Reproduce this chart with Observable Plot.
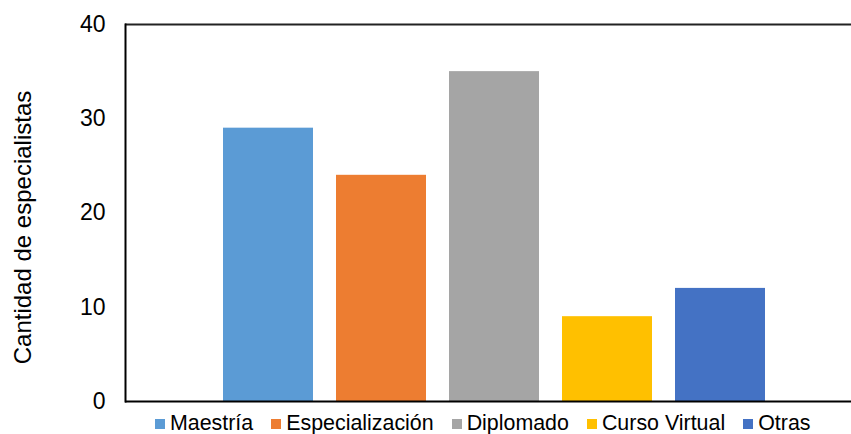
<!DOCTYPE html>
<html>
<head>
<meta charset="utf-8">
<script src="https://cdn.jsdelivr.net/npm/d3@7"></script>
<script src="https://cdn.jsdelivr.net/npm/@observablehq/plot@0.6"></script>
<style>
  html, body { margin: 0; padding: 0; background: #fff; }
  #chart { width: 851px; font-family: "Liberation Sans", Arial, sans-serif; }
  #chart svg { display: block; }
  #chart svg text { font-family: "Liberation Sans", Arial, sans-serif; }
  #legend { display: flex; align-items: center; height: 22px; margin-left: 155px; margin-top: -4px;
            font-size: 21.4px; line-height: 22px; color: #000; position: relative; }
  .item { display: flex; align-items: center; margin-right: 18px; white-space: nowrap; }
  .sw { width: 10px; height: 10px; margin-right: 5px; margin-top: 1px; display: inline-block; }
</style>
</head>
<body>
<div id="chart"></div>
<script>
const categories = ["Maestría", "Especialización", "Diplomado", "Curso Virtual", "Otras"];
const values = [29, 24, 35, 9, 12];
const colors = ["#5B9BD5", "#ED7D31", "#A5A5A5", "#FFC000", "#4472C4"];
const yTicks = [0, 10, 20, 30, 40];
const yLabel = "Cantidad de especialistas";

const data = categories.map((c, i) => ({cat: c, value: values[i]}));

const plot = Plot.plot({
  width: 851,
  height: 416,
  marginLeft: 125,
  marginRight: 0,
  marginTop: 24,
  marginBottom: 15,
  style: {fontFamily: "'Liberation Sans', Arial, sans-serif", fontSize: "21px", color: "#000", background: "#fff"},
  x: {domain: categories, range: [211.5, 776.5], paddingInner: 0.2, paddingOuter: 0.1, axis: null},
  y: {domain: [0, 40], axis: null},
  color: {domain: categories, range: colors},
  marks: [
    Plot.barY(data, {x: "cat", y: "value", fill: "cat"}),
    Plot.axisY({ticks: yTicks, tickSize: 0, tickPadding: 20, fontSize: 23, label: null, fill: "#000"}),
    Plot.text([yLabel], {frameAnchor: "left", textAnchor: "middle", lineAnchor: "middle", dx: -102.5, dy: 14.5, rotate: -90, fontSize: 24, fill: "#000"}),
    Plot.ruleY([0], {stroke: "#000", strokeWidth: 2}),
    Plot.ruleY([40], {stroke: "#222", strokeWidth: 2}),
    Plot.frame({anchor: "left", stroke: "#000", strokeWidth: 2})
  ]
});
document.getElementById("chart").appendChild(plot);

const legend = document.createElement("div");
legend.id = "legend";
categories.forEach((c, i) => {
  const item = document.createElement("span");
  item.className = "item";
  const sw = document.createElement("span");
  sw.className = "sw";
  sw.style.background = colors[i];
  item.appendChild(sw);
  item.appendChild(document.createTextNode(c));
  legend.appendChild(item);
});
document.getElementById("chart").appendChild(legend);
</script>
</body>
</html>
